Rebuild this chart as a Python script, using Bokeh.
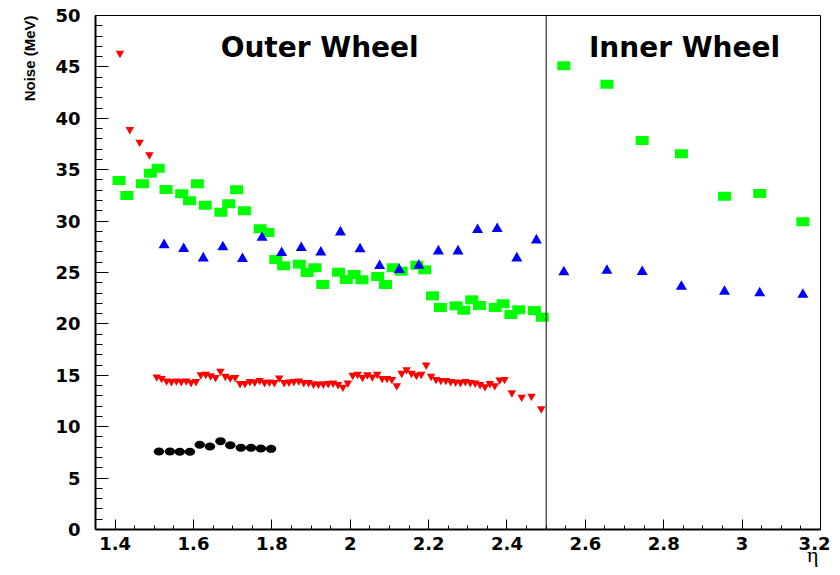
import numpy as np
from bokeh.plotting import figure
from bokeh.models import Range1d, FixedTicker, Span, Label, Title
from bokeh.embed import file_html
from bokeh.resources import INLINE

# ---------------- data ----------------
green_x = [1.41, 1.43, 1.47, 1.49, 1.51, 1.53, 1.57, 1.59, 1.61, 1.63,
           1.67, 1.69, 1.71, 1.73, 1.77, 1.79, 1.81, 1.83, 1.87, 1.89,
           1.91, 1.93, 1.97, 1.99, 2.01, 2.03, 2.07, 2.09, 2.11, 2.13,
           2.17, 2.19, 2.21, 2.23, 2.27, 2.29, 2.31, 2.33, 2.37, 2.39,
           2.41, 2.43, 2.47, 2.49,
           2.545, 2.655, 2.745, 2.845, 2.955, 3.045, 3.155]
green_y = [33.95, 32.5, 33.63, 34.66, 35.15, 33.07, 32.66, 31.97, 33.63, 31.55,
           30.87, 31.68, 33.04, 31.0, 29.25, 28.89, 26.26, 25.65, 25.81, 25.0,
           25.46, 23.83, 25.03, 24.32, 24.81, 24.29, 24.61, 23.83, 25.46, 25.13,
           25.71, 25.26, 22.73, 21.6, 21.76, 21.33, 22.34, 21.79, 21.6, 21.96,
           20.91, 21.37, 21.3, 20.65,
           45.11, 43.32, 37.84, 36.55, 32.42, 32.68, 29.93]

blue_x = [1.525, 1.575, 1.625, 1.675, 1.725, 1.775, 1.825, 1.875, 1.925, 1.975,
          2.025, 2.075, 2.125, 2.175, 2.225, 2.275, 2.325, 2.375, 2.425, 2.475,
          2.545, 2.655, 2.745, 2.845, 2.955, 3.045, 3.155]
blue_y = [27.68, 27.31, 26.39, 27.47, 26.33, 28.4, 26.92, 27.4, 26.97, 28.92,
          27.27, 25.65, 25.26, 25.68, 27.07, 27.07, 29.15, 29.25, 26.39, 28.14,
          25.03, 25.19, 25.07, 23.64, 23.15, 22.99, 22.86]

black_x = [1.512, 1.540, 1.565, 1.591, 1.616, 1.642, 1.669, 1.694, 1.721, 1.747,
           1.772, 1.798]
black_y = [7.59, 7.59, 7.56, 7.56, 8.24, 8.07, 8.59, 8.2, 7.95, 7.95, 7.88, 7.85]

red_x = [1.4125, 1.4375, 1.4625, 1.4875,
         1.5063, 1.5188, 1.5313, 1.5438, 1.5563, 1.5688, 1.5813, 1.5938, 1.6063, 1.6188,
         1.6313, 1.6438, 1.6563, 1.6688, 1.6813, 1.6938, 1.7063, 1.7188, 1.7313, 1.7438,
         1.7563, 1.7688, 1.7813, 1.7938, 1.8063, 1.8188, 1.8313, 1.8438, 1.8563, 1.8688,
         1.8813, 1.8938, 1.9063, 1.9188, 1.9313, 1.9438, 1.9563, 1.9688, 1.9813, 1.9938,
         2.0063, 2.0188, 2.0313, 2.0438, 2.0563, 2.0688, 2.0813, 2.0938, 2.1063, 2.1188,
         2.1313, 2.1438, 2.1563, 2.1688, 2.1813, 2.1938, 2.2063, 2.2188, 2.2313, 2.2438,
         2.2563, 2.2688, 2.2813, 2.2938, 2.3063, 2.3188, 2.3313, 2.3438, 2.3563, 2.3688,
         2.3813, 2.3938,
         2.4125, 2.4375, 2.4625, 2.4875]
red_y = [46.33, 38.91, 37.68, 36.45,
         14.85, 14.7, 14.45, 14.4, 14.45, 14.4, 14.45, 14.3, 14.4, 15.05,
         15.1, 14.95, 14.8, 15.4, 14.9, 14.75, 14.8, 14.2, 14.2, 14.4,
         14.35, 14.5, 14.3, 14.35, 14.3, 14.75, 14.3, 14.35, 14.4, 14.45,
         14.3, 14.3, 14.15, 14.15, 14.15, 14.2, 14.25, 14.1, 13.85, 14.25,
         15.0, 15.1, 14.8, 15.05, 14.85, 15.1, 14.7, 14.7, 14.6, 14.0,
         15.2, 15.55, 15.2, 15.0, 15.1, 16.0, 14.9, 14.6, 14.5, 14.5,
         14.4, 14.35, 14.3, 14.4, 14.3, 14.25, 14.1, 13.9, 14.2, 14.0,
         14.55, 14.6,
         13.3, 12.87, 12.97, 11.74]

x_ticks = [1.4, 1.6, 1.8, 2.0, 2.2, 2.4, 2.6, 2.8, 3.0, 3.2]
x_tick_labels = ["1.4", "1.6", "1.8", "2", "2.2", "2.4", "2.6", "2.8", "3", "3.2"]
y_ticks = [0, 5, 10, 15, 20, 25, 30, 35, 40, 45, 50]
y_tick_labels = ["0", "5", "10", "15", "20", "25", "30", "35", "40", "45", "50"]

region_split = 2.5
region_labels = ["Outer Wheel", "Inner Wheel"]
region_label_x = [1.922, 2.853]
region_label_y = 46.9

# ---------------- figure ----------------
p = figure(width=830, height=567,
           x_range=Range1d(1.35, 3.2), y_range=Range1d(0, 50),
           output_backend="svg", toolbar_location=None,
           min_border_left=95, min_border_right=10,
           min_border_top=15, min_border_bottom=38)
p.grid.visible = False
p.outline_line_color = "black"
p.outline_line_width = 1
p.background_fill_color = "white"
p.border_fill_color = "white"

# axes
xa = p.xaxis[0]
ya = p.yaxis[0]
xa.ticker = FixedTicker(ticks=x_ticks,
                        minor_ticks=[float(v) for v in np.round(np.arange(1.35, 3.2001, 0.05), 3)])
xa.major_label_overrides = {t: l for t, l in zip(x_ticks, x_tick_labels)}
ya.ticker = FixedTicker(ticks=y_ticks, minor_ticks=list(range(0, 51)))
ya.major_label_overrides = {t: l for t, l in zip(y_ticks, y_tick_labels)}

for ax in (xa, ya):
    ax.axis_line_color = "black"
    ax.axis_line_width = 2
    ax.major_tick_out = 0
    ax.minor_tick_out = 0
    ax.major_tick_line_color = "black"
    ax.minor_tick_line_color = "black"
    ax.major_label_text_font = "DejaVu Sans"
    ax.major_label_text_font_style = "bold"
    ax.major_label_text_font_size = "18px"
    ax.major_label_text_color = "black"

xa.major_tick_in = 10
xa.minor_tick_in = 4
xa.major_label_standoff = 7
ya.major_tick_in = 13
ya.minor_tick_in = 7
ya.major_label_standoff = 15

p.add_layout(Title(text="Noise (MeV)", align="right", standoff=30,
                   text_font="Liberation Sans", text_font_style="bold",
                   text_font_size="15px", text_color="black"), "left")
p.add_layout(Title(text="η", align="right", standoff=-28, offset=2,
                   text_font="Liberation Serif", text_font_style="normal",
                   text_font_size="22px", text_color="black"), "below")

# separator between wheels
p.add_layout(Span(location=region_split, dimension="height",
                  line_color="black", line_width=1))

# ---------------- data glyphs ----------------
p.rect(green_x, green_y, width=13, height=9,
       width_units="screen", height_units="screen",
       fill_color="#00ff00", line_color=None)
p.scatter(blue_x, blue_y, marker="triangle", size=11,
          fill_color="#0000ff", line_color=None)
p.scatter(red_x, red_y, marker="inverted_triangle", size=8.5,
          fill_color="#ff0000", line_color=None)
p.ellipse(black_x, black_y, width=10.5, height=8,
          width_units="screen", height_units="screen",
          fill_color="black", line_color=None)

for txt, lx in zip(region_labels, region_label_x):
    p.add_layout(Label(x=lx, y=region_label_y, text=txt,
                       text_align="center", text_baseline="middle",
                       text_font="DejaVu Sans", text_font_style="bold",
                       text_font_size="28px", text_color="black"))

open("out.html", "w").write(file_html(p, INLINE))
